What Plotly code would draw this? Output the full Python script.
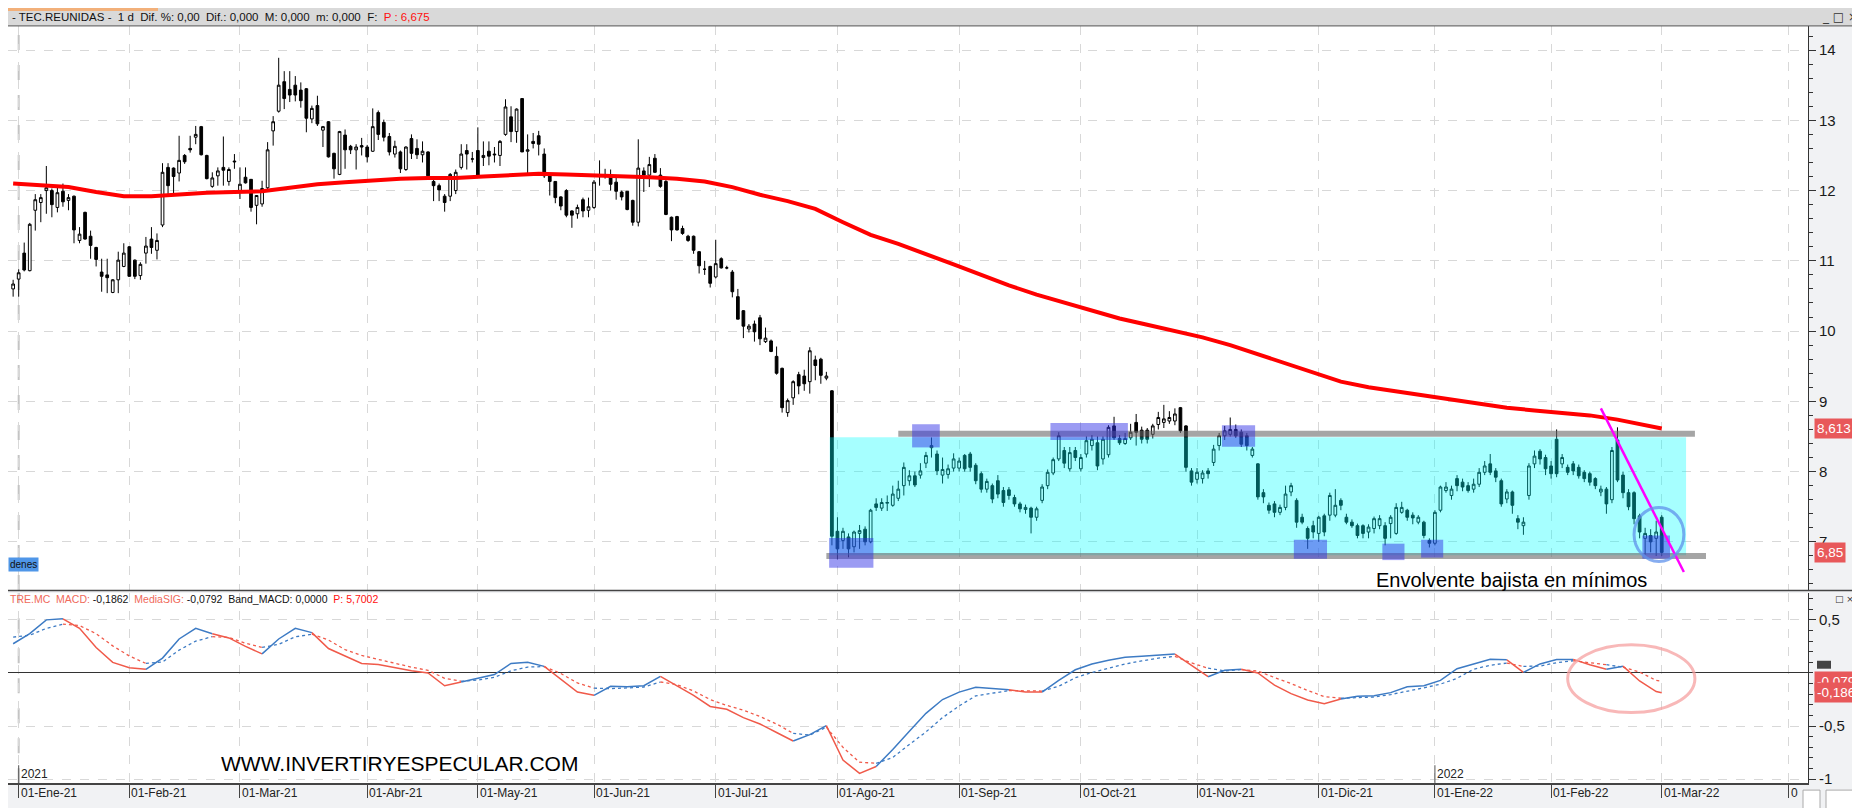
import pandas as pd
import plotly.graph_objects as go

# ------------------------------------------------------------------ data
holidays = ["2021-01-01", "2021-04-02", "2021-04-05", "2021-12-24", "2021-12-31"]

opens = [
    # 31-Dic-20 + Ene-21
    10.60, 10.74, 11.11, 10.86, 11.72, 11.83, 12.00, 12.00, 11.76, 11.99, 11.86, 11.92, 11.29, 11.69, 11.35, 11.19, 10.84, 10.80, 10.55, 10.73, 10.92,
    # Feb-21
    11.20, 11.01, 10.79, 11.11, 11.31, 11.15, 11.51, 12.33, 12.32, 12.25, 12.50, 12.60, 12.76, 12.91, 12.50, 12.06, 12.21, 12.33, 12.13, 12.42,
    # Mar-21
    12.00, 12.19, 12.16, 11.79, 11.81, 12.04, 12.85, 13.13, 13.55, 13.44, 13.50, 13.43, 13.45, 13.02, 13.21, 12.86, 12.98, 12.53, 12.23, 12.79, 12.63, 12.58, 12.64,
    # Abr-21
    12.62, 12.56, 13.11, 12.97, 12.77, 12.52, 12.55, 12.30, 12.74, 12.60, 12.51, 12.55, 12.13, 12.07, 11.92, 11.92, 12.00, 12.33, 12.57, 12.45,
    # May-21
    12.57, 12.47, 12.56, 12.52, 12.50, 12.80, 13.05, 12.84, 13.31, 12.56, 12.70, 12.78, 12.52, 12.22, 12.13, 11.91, 12.00, 11.71, 11.67, 11.87, 11.72,
    # Jun-21
    11.76, 12.21, 12.22, 12.19, 12.12, 11.98, 11.99, 11.86, 11.55, 12.28, 12.22, 12.46, 12.22, 12.13, 11.62, 11.63, 11.46, 11.35, 11.35, 11.13, 10.88, 10.92,
    # Jul-21
    10.77, 11.03, 10.90, 10.84, 10.49, 10.29, 10.03, 10.10, 10.19, 9.85, 9.86, 9.64, 9.47, 8.84, 9.05, 9.38, 9.36, 9.28, 9.59, 9.60, 9.33, 9.15,
    # Ago-21
    7.15, 7.02, 7.07, 6.93, 7.12, 7.18, 7.00, 7.54, 7.48, 7.55, 7.52, 7.62, 7.80, 7.87, 7.94, 7.95, 8.12, 8.34, 8.25, 7.95, 7.96, 8.05,
    # Sep-21
    8.05, 8.23, 8.25, 8.09, 7.97, 7.75, 7.80, 7.87, 7.73, 7.74, 7.63, 7.54, 7.46, 7.48, 7.35, 7.59, 7.80, 7.98, 8.18, 8.30, 8.04, 8.30,
    # Oct-21
    8.04, 8.25, 8.37, 8.41, 8.18, 8.24, 8.65, 8.47, 8.40, 8.48, 8.70, 8.59, 8.59, 8.53, 8.67, 8.70, 8.72, 8.72, 8.91, 8.65, 8.01,
    # Nov-21
    7.89, 7.90, 8.01, 8.13, 8.37, 8.51, 8.53, 8.60, 8.56, 8.51, 8.23, 8.11, 7.70, 7.52, 7.54, 7.42, 7.49, 7.71, 7.59, 7.35, 7.19, 7.23,
    # Dic-21
    7.12, 7.37, 7.38, 7.38, 7.59, 7.35, 7.28, 7.23, 7.23, 7.14, 7.19, 7.23, 7.23, 7.26, 7.12, 7.42, 7.45, 7.38, 7.28, 7.28, 7.02,
    # Ene-22
    6.98, 7.45, 7.73, 7.66, 7.90, 7.85, 7.80, 7.75, 7.82, 7.99, 8.11, 8.01, 7.87, 7.61, 7.71, 7.33, 7.23, 7.66, 8.11, 8.29, 8.20,
    # Feb-22
    8.08, 8.46, 8.11, 8.06, 8.11, 8.06, 7.99, 7.97, 7.90, 7.71, 7.75, 7.60, 8.45, 7.95, 7.70, 7.70, 7.37, 7.05, 7.09, 7.05,
    # 01-Mar-22
    7.35,
]
highs = [
    10.73, 10.88, 11.26, 11.54, 11.95, 11.95, 12.35, 12.03, 12.07, 12.10, 11.95, 11.93, 11.48, 11.70, 11.43, 11.20, 11.03, 11.03, 10.74, 11.13, 11.25,
    11.21, 11.02, 10.98, 11.34, 11.48, 11.39, 12.39, 12.39, 12.33, 12.78, 12.52, 12.78, 12.92, 12.92, 12.51, 12.26, 12.33, 12.77, 12.33, 12.52,
    12.33, 12.33, 12.16, 11.93, 12.14, 12.69, 13.06, 13.89, 13.70, 13.70, 13.63, 13.54, 13.46, 13.21, 13.35, 12.92, 12.99, 12.54, 12.85, 12.87, 12.65, 12.66, 12.75,
    12.65, 13.17, 13.14, 13.01, 12.82, 12.71, 12.57, 12.63, 12.80, 12.73, 12.70, 12.56, 12.16, 12.10, 11.95, 12.25, 12.30, 12.66, 12.66, 12.55,
    12.90, 12.70, 12.70, 12.62, 12.72, 13.30, 13.20, 13.17, 13.31, 12.80, 12.82, 12.85, 12.60, 12.25, 12.13, 11.92, 12.02, 11.72, 11.80, 11.90, 11.90,
    12.15, 12.43, 12.31, 12.30, 12.18, 12.00, 11.99, 11.87, 12.73, 12.33, 12.48, 12.52, 12.32, 12.15, 11.63, 11.64, 11.50, 11.37, 11.36, 11.14, 11.00, 10.93,
    11.30, 11.05, 10.93, 10.87, 10.60, 10.30, 10.10, 10.15, 10.23, 10.05, 9.88, 9.78, 9.48, 9.04, 9.30, 9.42, 9.45, 9.77, 9.65, 9.62, 9.42, 9.16,
    7.35, 7.20, 7.12, 7.16, 7.24, 7.22, 7.47, 7.62, 7.62, 7.66, 7.80, 7.87, 8.13, 8.02, 8.00, 8.12, 8.28, 8.485, 8.30, 8.20, 8.10, 8.26,
    8.20, 8.25, 8.28, 8.12, 8.00, 7.90, 7.83, 7.95, 7.78, 7.78, 7.67, 7.57, 7.53, 7.50, 7.50, 7.82, 8.03, 8.20, 8.56, 8.35, 8.35, 8.35,
    8.25, 8.50, 8.52, 8.50, 8.50, 8.66, 8.78, 8.52, 8.55, 8.68, 8.82, 8.64, 8.62, 8.68, 8.85, 8.95, 8.86, 8.90, 8.92, 8.66, 8.05,
    8.05, 8.02, 8.05, 8.38, 8.55, 8.65, 8.77, 8.67, 8.60, 8.55, 8.35, 8.12, 7.75, 7.56, 7.58, 7.53, 7.80, 7.84, 7.62, 7.40, 7.22, 7.30,
    7.37, 7.40, 7.70, 7.75, 7.62, 7.40, 7.32, 7.26, 7.25, 7.25, 7.36, 7.38, 7.28, 7.38, 7.55, 7.57, 7.47, 7.42, 7.38, 7.30, 7.05,
    7.45, 7.80, 7.85, 7.80, 7.95, 7.90, 7.85, 7.90, 8.05, 8.15, 8.25, 8.05, 7.90, 7.75, 7.73, 7.38, 7.35, 8.12, 8.30, 8.32, 8.24,
    8.15, 8.60, 8.25, 8.10, 8.15, 8.10, 8.02, 8.00, 7.92, 7.80, 7.78, 8.35, 8.63, 8.00, 7.75, 7.72, 7.40, 7.20, 7.18, 7.30,
    7.38,
]
lows = [
    10.49, 10.49, 10.85, 10.85, 11.43, 11.55, 11.67, 11.62, 11.69, 11.77, 11.72, 11.25, 11.25, 11.30, 11.03, 10.92, 10.56, 10.54, 10.54, 10.54, 10.91,
    10.77, 10.74, 10.73, 10.96, 11.10, 11.02, 11.48, 11.95, 11.95, 12.13, 12.38, 12.54, 12.66, 12.50, 12.16, 12.04, 12.07, 12.07, 12.07, 12.31,
    11.88, 12.10, 11.70, 11.52, 11.77, 12.02, 12.64, 13.11, 13.16, 13.26, 13.27, 13.18, 12.83, 12.96, 12.92, 12.62, 12.47, 12.17, 12.22, 12.31, 12.52, 12.30, 12.50,
    12.40, 12.55, 12.72, 12.70, 12.50, 12.47, 12.25, 12.28, 12.45, 12.45, 12.40, 12.19, 11.85, 11.85, 11.70, 11.85, 11.95, 12.30, 12.30, 12.40,
    12.20, 12.35, 12.36, 12.40, 12.35, 12.78, 12.69, 12.68, 12.55, 12.25, 12.60, 12.50, 12.18, 11.93, 11.82, 11.72, 11.62, 11.47, 11.60, 11.62, 11.62,
    11.74, 12.07, 12.17, 12.00, 11.87, 11.86, 11.72, 11.50, 11.49, 11.98, 12.05, 12.25, 12.04, 11.65, 11.28, 11.43, 11.37, 11.27, 11.10, 10.82, 10.80, 10.62,
    10.75, 10.89, 10.88, 10.48, 10.17, 9.90, 9.98, 9.85, 9.80, 9.83, 9.70, 9.38, 8.84, 8.78, 8.95, 9.10, 9.15, 9.11, 9.30, 9.25, 9.30, 6.95,
    6.75, 6.90, 6.78, 6.85, 6.90, 6.95, 6.98, 7.44, 7.44, 7.44, 7.50, 7.58, 7.66, 7.80, 7.78, 7.90, 8.05, 8.20, 7.95, 7.83, 7.90, 8.00,
    8.00, 8.00, 8.00, 7.82, 7.70, 7.70, 7.55, 7.62, 7.50, 7.60, 7.50, 7.42, 7.40, 7.12, 7.30, 7.55, 7.75, 7.95, 8.15, 8.05, 8.00, 8.15,
    8.00, 8.20, 8.30, 8.02, 8.10, 8.20, 8.45, 8.38, 8.38, 8.45, 8.37, 8.40, 8.40, 8.47, 8.60, 8.62, 8.68, 8.66, 8.55, 8.00, 7.80,
    7.83, 7.83, 7.90, 8.08, 8.30, 8.45, 8.50, 8.48, 8.35, 8.30, 8.20, 7.60, 7.55, 7.40, 7.35, 7.38, 7.45, 7.65, 7.20, 7.25, 6.90, 7.05,
    7.00, 7.08, 7.30, 7.35, 7.45, 7.25, 7.20, 7.05, 7.05, 7.05, 7.12, 7.18, 6.95, 7.05, 7.10, 7.40, 7.30, 7.25, 7.25, 7.05, 6.92,
    6.95, 7.42, 7.70, 7.60, 7.72, 7.72, 7.70, 7.70, 7.78, 7.95, 7.95, 7.85, 7.50, 7.55, 7.40, 7.18, 7.10, 7.60, 8.05, 8.10, 7.95,
    7.90, 7.92, 8.05, 7.95, 7.95, 7.90, 7.85, 7.80, 7.75, 7.65, 7.40, 7.55, 7.85, 7.62, 7.45, 7.25, 7.05, 6.82, 6.85, 6.80,
    6.80,
]
closes = [
    10.67, 10.83, 10.87, 11.52, 11.87, 11.90, 12.04, 11.80, 11.97, 11.84, 11.90, 11.44, 11.38, 11.31, 11.22, 11.02, 10.78, 10.76, 10.73, 11.01, 11.11,
    10.78, 10.78, 10.95, 11.21, 11.19, 11.29, 12.26, 12.07, 12.20, 12.43, 12.41, 12.58, 12.80, 12.51, 12.17, 12.18, 12.28, 12.29, 12.30, 12.41,
    12.09, 12.11, 11.76, 11.93, 12.03, 12.58, 12.98, 13.50, 13.31, 13.36, 13.36, 13.28, 13.03, 13.17, 12.95, 12.91, 12.48, 12.31, 12.84, 12.58, 12.58, 12.62, 12.62,
    12.48, 12.91, 12.80, 12.76, 12.55, 12.63, 12.31, 12.62, 12.53, 12.51, 12.56, 12.21, 12.07, 12.01, 11.83, 12.23, 12.26, 12.52, 12.52, 12.45,
    12.21, 12.50, 12.49, 12.51, 12.70, 13.19, 12.84, 13.16, 12.55, 12.58, 12.67, 12.66, 12.21, 12.13, 11.90, 11.78, 11.65, 11.65, 11.76, 11.71, 11.77,
    12.12, 12.20, 12.20, 12.09, 11.99, 11.91, 11.73, 11.55, 12.32, 12.22, 12.37, 12.26, 12.06, 11.66, 11.44, 11.44, 11.39, 11.29, 11.15, 10.93, 10.88, 10.68,
    10.96, 10.90, 10.90, 10.56, 10.17, 10.07, 10.07, 9.99, 9.89, 9.90, 9.71, 9.40, 8.91, 9.01, 9.28, 9.22, 9.25, 9.72, 9.51, 9.37, 9.36, 7.08,
    6.90, 7.15, 6.90, 7.14, 7.16, 7.00, 7.45, 7.49, 7.56, 7.56, 7.68, 7.75, 8.06, 7.94, 7.81, 8.01, 8.23, 8.37, 8.01, 8.03, 8.04, 8.18,
    8.15, 8.04, 8.06, 7.87, 7.75, 7.86, 7.61, 7.68, 7.56, 7.66, 7.54, 7.47, 7.49, 7.35, 7.47, 7.78, 7.99, 8.17, 8.51, 8.12, 8.27, 8.20,
    8.20, 8.44, 8.46, 8.08, 8.46, 8.63, 8.48, 8.41, 8.47, 8.56, 8.56, 8.46, 8.46, 8.65, 8.77, 8.75, 8.77, 8.82, 8.58, 8.06, 7.85,
    7.99, 7.98, 7.97, 8.32, 8.51, 8.58, 8.60, 8.51, 8.39, 8.37, 8.32, 7.64, 7.64, 7.45, 7.42, 7.49, 7.68, 7.80, 7.28, 7.28, 7.05, 7.14,
    7.35, 7.14, 7.66, 7.52, 7.52, 7.28, 7.23, 7.09, 7.12, 7.21, 7.33, 7.33, 7.05, 7.35, 7.49, 7.49, 7.35, 7.34, 7.35, 7.09, 6.98,
    7.42, 7.78, 7.78, 7.75, 7.80, 7.78, 7.73, 7.82, 7.99, 8.08, 7.99, 7.92, 7.54, 7.71, 7.52, 7.28, 7.28, 8.08, 8.22, 8.18, 8.04,
    7.97, 7.97, 8.20, 7.99, 8.01, 7.94, 7.90, 7.85, 7.80, 7.75, 7.54, 8.30, 7.88, 7.70, 7.50, 7.33, 7.14, 7.12, 7.00, 7.14,
    6.85,
]

# 200-session moving average, read every 5 sessions (plus the last session)
ma_values = [
    12.10, 12.07, 12.05, 11.98, 11.92, 11.92, 11.95, 11.97, 11.98, 11.99,
    12.04, 12.09, 12.12, 12.15, 12.17, 12.18, 12.18, 12.20, 12.22, 12.24,
    12.23, 12.22, 12.21, 12.19, 12.17, 12.13, 12.05, 11.94, 11.85, 11.74,
    11.55, 11.37, 11.24, 11.10, 10.95, 10.80, 10.65, 10.52, 10.41, 10.30,
    10.18, 10.09, 10.00, 9.91, 9.80, 9.67, 9.54, 9.40, 9.28, 9.20,
    9.14, 9.09, 9.03, 8.96, 8.91, 8.87, 8.84, 8.80, 8.74, 8.66,
    8.613,
]

# MACD and signal, read every 3 sessions (plus the last session)
macd_values = [
    0.275, 0.37, 0.50, 0.51, 0.42, 0.24, 0.10, 0.05, 0.035, 0.14,
    0.32, 0.42, 0.37, 0.33, 0.25, 0.18, 0.32, 0.42, 0.38, 0.23,
    0.16, 0.09, 0.08, 0.05, 0.02, 0.0, -0.12, -0.085, -0.05, -0.015,
    0.09, 0.10, 0.062, -0.055, -0.18, -0.21, -0.126, -0.13, -0.12, -0.032,
    -0.12, -0.21, -0.315, -0.342, -0.42, -0.48, -0.56, -0.64, -0.58, -0.495,
    -0.82, -0.945, -0.88, -0.72, -0.548, -0.38, -0.25, -0.18, -0.135, -0.148,
    -0.157, -0.18, -0.18, -0.07, 0.03, 0.085, 0.12, 0.148, 0.157, 0.166,
    0.178, 0.07, -0.035, 0.025, 0.036, 0.0, -0.115, -0.195, -0.255, -0.29,
    -0.245, -0.219, -0.215, -0.185, -0.13, -0.12, -0.07, 0.04, 0.085, 0.13,
    0.124, 0.005, 0.085, 0.126, 0.128, 0.077, 0.035, 0.064, -0.075, -0.175,
    -0.186,
]
signal_values = [
    0.338, 0.355, 0.42, 0.46, 0.446, 0.37, 0.255, 0.16, 0.09, 0.103,
    0.215, 0.30, 0.342, 0.335, 0.28, 0.24, 0.27, 0.34, 0.365, 0.31,
    0.22, 0.165, 0.128, 0.09, 0.055, 0.025, -0.05, -0.078, -0.067, -0.04,
    0.02, 0.056, 0.06, -0.005, -0.094, -0.143, -0.147, -0.141, -0.132, -0.085,
    -0.11, -0.17, -0.25, -0.305, -0.35, -0.41, -0.48, -0.568, -0.585, -0.51,
    -0.70, -0.84, -0.85, -0.795, -0.673, -0.555, -0.42, -0.31, -0.215, -0.187,
    -0.166, -0.167, -0.17, -0.125, -0.045, 0.005, 0.045, 0.085, 0.113, 0.14,
    0.156, 0.095, 0.045, 0.020, 0.031, 0.018, -0.043, -0.10, -0.165, -0.222,
    -0.238, -0.232, -0.226, -0.203, -0.175, -0.14, -0.105, -0.05, 0.035, 0.073,
    0.093, 0.062, 0.065, 0.097, 0.115, 0.093, 0.078, 0.055, 0.008, -0.07,
    -0.079,
]

month_labels = ["01-Ene-21", "01-Feb-21", "01-Mar-21", "01-Abr-21", "01-May-21", "01-Jun-21",
                "01-Jul-21", "01-Ago-21", "01-Sep-21", "01-Oct-21", "01-Nov-21", "01-Dic-21",
                "01-Ene-22", "01-Feb-22", "01-Mar-22", "0"]
year_labels = ["2021", "2022"]
price_ticks = [7, 8, 9, 10, 11, 12, 13, 14]
price_ticktext = ["7", "8", "9", "10", "11", "12", "13", "14"]
macd_ticks = [0.5, -0.5, -1]
macd_ticktext = ["0,5", "-0,5", "-1"]

last_ma_label = 8.613
last_close_label = 6.85
last_signal_label = -0.079
last_macd_label = -0.186

# drawing annotations (dates / prices)
range_box = ("2021-07-30", "2022-03-07", 6.81, 8.49)
level_lines = [("2021-08-17", "2022-03-09", 8.54), ("2021-07-29", "2022-03-11", 6.80)]
touch_boxes = [
    ("2021-07-30", "2021-08-10", 6.63, 7.055),
    ("2021-08-20", "2021-08-26", 8.344, 8.674),
    ("2021-09-24", "2021-10-13", 8.45, 8.69),
    ("2021-11-08", "2021-11-15", 8.353, 8.66),
    ("2021-11-25", "2021-12-02", 6.76, 7.03),
    ("2021-12-17", "2021-12-22", 6.74, 6.974),
    ("2021-12-29", "2022-01-04", 6.776, 7.03),
    ("2022-02-24", "2022-03-02", 6.76, 7.09),
]
trend_line = ("2022-02-14", 8.90, "2022-03-07", 6.57)
pattern_circle = ("2022-02-22", "2022-03-07", 6.72, 7.49)
macd_ellipse = ("2022-02-04", "2022-03-09", -0.372, 0.265)

# ------------------------------------------------------------------ calendar
cal = [d for d in pd.bdate_range("2020-12-31", "2022-04-29") if d.strftime("%Y-%m-%d") not in holidays]
pos = {d.strftime("%Y-%m-%d"): i for i, d in enumerate(cal)}
n = len(closes)
assert len(opens) == len(highs) == len(lows) == n, (len(opens), len(highs), len(lows), n)
xs = list(range(n))
ma_idx = list(range(0, n - 3, 5)) + [n - 1]
mc_idx = list(range(0, n - 1, 3)) + [n - 1]
assert len(ma_idx) == len(ma_values), (len(ma_idx), len(ma_values))
assert len(mc_idx) == len(macd_values) == len(signal_values)

XMAX = 324.44
tick_idx, year_idx = [], []
for i in range(1, len(cal)):
    if cal[i].month != cal[i - 1].month and i <= XMAX:
        tick_idx.append(i)
    if cal[i].year != cal[i - 1].year:
        year_idx.append(i)

# ------------------------------------------------------------------ layout helpers
W, H = 1860, 808
XR = 1800


def fx(px):
    return px / W


def fy(px):
    return 1 - px / H


NARROW = "Liberation Sans Narrow, Arial Narrow, Liberation Sans, sans-serif"
SANS = "Liberation Sans, Arial, sans-serif"
BLUE = "#3d7bc4"
RED = "#f05a4a"

fig = go.Figure()

fig.add_trace(go.Candlestick(
    x=xs, open=opens, high=highs, low=lows, close=closes,
    increasing=dict(line=dict(color="black", width=1), fillcolor="white"),
    decreasing=dict(line=dict(color="black", width=1), fillcolor="black"),
    whiskerwidth=0, xaxis="x", yaxis="y", showlegend=False, hoverinfo="skip",
))
fig.add_trace(go.Scatter(
    x=ma_idx, y=ma_values, mode="lines", line=dict(color="#ff0000", width=4),
    xaxis="x", yaxis="y", showlegend=False, hoverinfo="skip",
))

# MACD coloured by regime
bull = [m >= s for m, s in zip(macd_values, signal_values)]
start = 0
runs = []
for i in range(1, len(bull) + 1):
    if i == len(bull) or bull[i] != bull[start]:
        runs.append((start, i - 1, bull[start]))
        start = i
for a, b, st in runs:
    a0 = max(a - 1, 0)
    col = BLUE if st else RED
    seg_x = mc_idx[a0:b + 1]
    fig.add_trace(go.Scatter(x=seg_x, y=signal_values[a0:b + 1], mode="lines",
                             line=dict(color=col, width=1.3, dash="dot"),
                             xaxis="x2", yaxis="y2", showlegend=False, hoverinfo="skip"))
    fig.add_trace(go.Scatter(x=seg_x, y=macd_values[a0:b + 1], mode="lines",
                             line=dict(color=col, width=1.5),
                             xaxis="x2", yaxis="y2", showlegend=False, hoverinfo="skip"))

shapes = []
# header bar & frame
shapes.append(dict(type="rect", xref="paper", yref="paper", x0=0, x1=1, y0=fy(18), y1=1,
                   fillcolor="#d9d9d9", line=dict(width=0), layer="below"))
shapes.append(dict(type="rect", xref="paper", yref="paper", x0=0, x1=fx(150), y0=fy(3), y1=1,
                   fillcolor="#f2b07a", line=dict(width=0), layer="above"))
shapes.append(dict(type="line", xref="paper", yref="paper", x0=0, x1=1, y0=fy(18), y1=fy(18),
                   line=dict(color="#555", width=1)))
shapes.append(dict(type="line", xref="paper", yref="paper", x0=0, x1=1, y0=fy(585.5), y1=fy(585.5),
                   line=dict(color="#444", width=1.5)))
shapes.append(dict(type="rect", xref="paper", yref="paper", x0=fx(1846), x1=fx(1859), y0=fy(38), y1=fy(24),
                   line=dict(color="#aaa", width=1), fillcolor="rgba(0,0,0,0)"))
# year separators
for yi in year_idx[:1]:
    shapes.append(dict(type="line", xref="x", yref="paper", x0=yi, x1=yi, y0=fy(585), y1=fy(18),
                       line=dict(color="#c4c4c4", width=2, dash="longdash"), layer="below"))
    shapes.append(dict(type="line", xref="x", yref="paper", x0=yi, x1=yi, y0=fy(779), y1=fy(588),
                       line=dict(color="#c4c4c4", width=2, dash="longdash"), layer="below"))
for yi in year_idx:
    shapes.append(dict(type="line", xref="x", yref="paper", x0=yi, x1=yi, y0=fy(779), y1=fy(761),
                       line=dict(color="#555", width=1)))

# analysis drawings
s, e, lo, hi = range_box
shapes.append(dict(type="rect", xref="x", yref="y", x0=pos[s] - 0.4, x1=pos[e] + 0.4, y0=lo, y1=hi,
                   fillcolor="rgba(0,255,255,0.35)", line=dict(width=0), layer="above"))
for s, e, lvl in level_lines:
    shapes.append(dict(type="line", xref="x", yref="y", x0=pos[s], x1=pos[e], y0=lvl, y1=lvl,
                       line=dict(color="rgba(105,105,105,0.6)", width=6), layer="above"))
for s, e, lo, hi in touch_boxes:
    shapes.append(dict(type="rect", xref="x", yref="y", x0=pos[s] - 0.5, x1=pos[e] + 0.5, y0=lo, y1=hi,
                       fillcolor="rgba(45,45,230,0.48)", line=dict(width=0), layer="above"))
s, v0, e, v1 = trend_line
shapes.append(dict(type="line", xref="x", yref="y", x0=pos[s], x1=pos[e], y0=v0, y1=v1,
                   line=dict(color="#ff00ff", width=2.5), layer="above"))
s, e, lo, hi = pattern_circle
shapes.append(dict(type="circle", xref="x", yref="y", x0=pos[s], x1=pos[e], y0=lo, y1=hi,
                   line=dict(color="rgba(95,145,235,0.75)", width=3), fillcolor="rgba(0,0,0,0)", layer="above"))
s, e, lo, hi = macd_ellipse
shapes.append(dict(type="circle", xref="x2", yref="y2", x0=pos[s], x1=pos[e], y0=lo, y1=hi,
                   line=dict(color="rgba(245,160,160,0.75)", width=3), fillcolor="rgba(0,0,0,0)", layer="above"))
# small dark marker next to MACD labels
shapes.append(dict(type="rect", xref="paper", yref="paper", x0=fx(1809), x1=fx(1823), y0=fy(664), y1=fy(656),
                   fillcolor="#444", line=dict(width=0)))
# bottom right icons
shapes.append(dict(type="rect", xref="paper", yref="paper", x0=fx(1795), x1=fx(1812), y0=fy(806), y1=fy(786),
                   fillcolor="white", line=dict(color="#aaa", width=1)))
shapes.append(dict(type="rect", xref="paper", yref="paper", x0=fx(1818), x1=fx(1848), y0=fy(806), y1=fy(786),
                   fillcolor="white", line=dict(color="#aaa", width=1)))
shapes.append(dict(type="rect", xref="paper", yref="paper", x0=fx(1853), x1=1, y0=fy(806), y1=fy(786),
                   fillcolor="black", line=dict(width=0)))

ann = []
ann.append(dict(xref="paper", yref="paper", x=fx(2), y=fy(9), xanchor="left", yanchor="middle", showarrow=False,
                text="- TEC.REUNIDAS -  1 d  Dif. %: 0,00  Dif.: 0,000  M: 0,000  m: 0,000  F:  "
                     "<span style='color:#ff1010'>P : 6,675</span>",
                font=dict(family=SANS, size=11.5, color="#111")))
ann.append(dict(xref="paper", yref="paper", x=fx(1852), y=fy(9), xanchor="right", yanchor="middle", showarrow=False,
                text="_ □ ×", font=dict(family="DejaVu Sans", size=12, color="#333")))
ann.append(dict(xref="paper", yref="paper", x=fx(1848), y=fy(594), xanchor="right", yanchor="middle", showarrow=False,
                text="□ ×", font=dict(family="DejaVu Sans", size=9, color="#333")))
ann.append(dict(xref="paper", yref="paper", x=0, y=fy(594), xanchor="left", yanchor="middle", showarrow=False,
                text="<span style='color:#f06a5a'>TRE.MC  MACD:</span> -0,1862  "
                     "<span style='color:#f06a5a'>MediaSIG:</span> -0,0792  Band_MACD: 0,0000  "
                     "<span style='color:#ff1010'>P: 5,7002</span>",
                font=dict(family=SANS, size=10.5, color="#111")))
ann.append(dict(xref="paper", yref="paper", x=0, y=fy(559), xanchor="left", yanchor="middle", showarrow=False,
                text="denes", bgcolor="#4f96e8", borderpad=1, font=dict(family=SANS, size=10, color="#111")))
ann.append(dict(xref="paper", yref="paper", x=fx(1366), y=fy(575), xanchor="left", yanchor="middle", showarrow=False,
                text="Envolvente bajista en mínimos", font=dict(family=SANS, size=20, color="#000")))
ann.append(dict(xref="paper", yref="paper", x=fx(211), y=fy(759), xanchor="left", yanchor="middle", showarrow=False,
                text="WWW.INVERTIRYESPECULAR.COM", font=dict(family=NARROW, size=21, color="#000")))
for ti, lab in zip(tick_idx, month_labels):
    ann.append(dict(xref="x2", yref="paper", x=ti, y=fy(789), xanchor="left", yanchor="middle", showarrow=False,
                    xshift=0, text=lab, font=dict(family=NARROW, size=12, color="#222")))
for yi, lab in zip(year_idx, year_labels):
    ann.append(dict(xref="x2", yref="paper", x=yi, y=fy(770), xanchor="left", yanchor="middle", showarrow=False,
                    xshift=0, text=lab, font=dict(family=NARROW, size=12, color="#222")))
# value labels on the right axis
for val, txt, yr in [(last_ma_label, "8,613", "y"), (last_close_label, "6,85", "y"),
                     (last_signal_label, "-0,079", "y2"), (last_macd_label, "-0,186", "y2")]:
    ann.append(dict(xref="paper", yref=yr, x=fx(1806), y=val, xanchor="left", yanchor="middle", showarrow=False,
                    text=txt, bgcolor="#e8585a", borderpad=2, font=dict(family=SANS, size=13.5, color="white")))

fig.update_layout(
    width=W, height=H, autosize=False,
    margin=dict(l=0, r=0, t=0, b=0),
    paper_bgcolor="#f1f2f4", plot_bgcolor="white",
    hovermode=False, showlegend=False,
    shapes=shapes, annotations=ann,
    xaxis=dict(domain=[0, fx(XR)], range=[-0.93, XMAX], anchor="y",
               tickmode="array", tickvals=tick_idx, showticklabels=False, ticks="",
               showgrid=True, gridcolor="#d8d8d8", griddash="dash", gridwidth=1,
               zeroline=False, showline=False, rangeslider=dict(visible=False)),
    yaxis=dict(domain=[fy(585), fy(18)], range=[6.313, 14.344], anchor="x", side="right",
               tickmode="array", tickvals=price_ticks, ticktext=price_ticktext,
               ticks="outside", ticklen=7, tickcolor="#333",
               minor=dict(dtick=0.2, tick0=0, ticks="outside", ticklen=4, tickcolor="#333", showgrid=False),
               showline=True, linecolor="#333", linewidth=1,
               showgrid=True, gridcolor="#d8d8d8", griddash="dash", zeroline=False,
               tickfont=dict(family=SANS, size=15, color="#1a1a1a")),
    xaxis2=dict(domain=[0, fx(XR)], range=[-0.93, XMAX], anchor="y2", matches="x",
                tickmode="array", tickvals=tick_idx, showticklabels=False,
                ticks="outside", ticklen=13, tickcolor="#444",
                showgrid=True, gridcolor="#d8d8d8", griddash="dash", gridwidth=1,
                zeroline=False, showline=True, linecolor="#444", linewidth=1.5),
    yaxis2=dict(domain=[fy(779), fy(588)], range=[-1.037, 0.752], anchor="x2", side="right",
                tickmode="array", tickvals=macd_ticks, ticktext=macd_ticktext,
                ticks="outside", ticklen=7, tickcolor="#333",
                minor=dict(dtick=0.1, tick0=0, ticks="outside", ticklen=4, tickcolor="#333", showgrid=False),
                showline=True, linecolor="#333", linewidth=1,
                showgrid=True, gridcolor="#d8d8d8", griddash="dash",
                zeroline=True, zerolinecolor="#333", zerolinewidth=1,
                tickfont=dict(family=SANS, size=15, color="#1a1a1a")),
)

fig.write_html("out.html", config={"displayModeBar": False})
